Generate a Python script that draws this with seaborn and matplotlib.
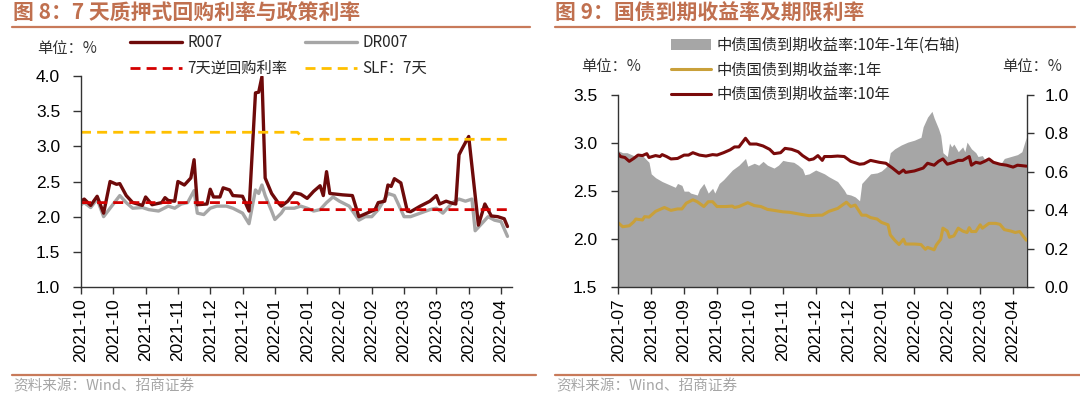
import matplotlib
matplotlib.use("Agg")
import matplotlib.pyplot as plt
import seaborn as sns
import numpy as np
from matplotlib.lines import Line2D
from matplotlib.patches import Patch

# ---------------- data: left chart (x = trading-day index) ----------------
left_tick_pos = list(range(0, 131, 10))
left_tick_labels = ['2021-10', '2021-10', '2021-11', '2021-11', '2021-12', '2021-12',
                    '2022-01', '2022-01', '2022-02', '2022-02', '2022-03', '2022-03',
                    '2022-03', '2022-04']

r007_x = [0, 1, 3, 5, 7, 9, 11, 12, 14, 16, 19, 20, 22, 25, 26, 27, 29, 30, 32, 34, 35, 36,
          39, 40, 41, 43, 44, 46, 47, 50, 52, 54, 55, 56, 57, 59, 61, 62, 64, 66, 68, 70,
          72, 74, 75, 76, 77, 81, 84, 86, 89, 91, 92, 94, 95, 96, 97, 99, 101, 102, 105,
          108, 110, 111, 113, 115, 116, 117, 118, 120, 123, 125, 127, 129, 131, 132]
r007_y = [2.22, 2.25, 2.16, 2.29, 2.05, 2.50, 2.46, 2.47, 2.30, 2.20, 2.16, 2.28, 2.17, 2.20,
          2.27, 2.23, 2.22, 2.50, 2.45, 2.55, 2.81, 2.17, 2.18, 2.39, 2.28, 2.28, 2.41, 2.38,
          2.30, 2.29, 2.08, 3.76, 3.77, 3.99, 2.55, 2.33, 2.20, 2.15, 2.22, 2.34, 2.32, 2.26,
          2.36, 2.44, 2.30, 2.64, 2.33, 2.31, 2.30, 2.00, 2.06, 2.10, 2.20, 2.22, 2.45, 2.43,
          2.54, 2.48, 2.08, 2.07, 2.15, 2.22, 2.30, 2.18, 2.22, 2.19, 2.18, 2.88, 2.97, 3.14,
          1.88, 2.18, 2.01, 2.00, 1.97, 1.86]

dr007_x = [0, 1, 3, 5, 7, 9, 12, 14, 16, 19, 21, 24, 27, 29, 31, 33, 35, 36, 38, 40, 42, 45,
           47, 50, 52, 54, 55, 56, 57, 59, 60, 62, 63, 66, 68, 70, 72, 74, 76, 78, 80, 83,
           86, 88, 90, 92, 94, 95, 97, 99, 100, 102, 105, 108, 110, 112, 115, 117, 119, 121,
           122, 124, 126, 128, 130, 132]
dr007_y = [2.17, 2.20, 2.13, 2.25, 2.00, 2.12, 2.30, 2.20, 2.12, 2.13, 2.10, 2.08, 2.15, 2.12,
           2.18, 2.20, 2.37, 2.05, 2.03, 2.12, 2.15, 2.15, 2.12, 2.05, 1.90, 2.38, 2.33, 2.45,
           2.30, 2.08, 1.96, 2.05, 2.12, 2.12, 2.15, 2.12, 2.08, 2.10, 2.20, 2.28, 2.22, 2.15,
           1.95, 2.00, 2.00, 2.10, 2.25, 2.33, 2.30, 2.10, 2.00, 2.00, 2.05, 2.10, 2.12, 2.05,
           2.20, 2.25, 2.22, 2.25, 1.80, 1.90, 2.00, 1.95, 1.93, 1.72]

policy_x = [0, 67, 69, 132]
repo7_y = [2.2, 2.2, 2.1, 2.1]
slf7_y = [3.2, 3.2, 3.1, 3.1]

# ---------------- data: right chart ----------------
right_tick_pos = list(range(0, 181, 15))
right_tick_labels = ['2021-07', '2021-08', '2021-09', '2021-09', '2021-10', '2021-11',
                     '2021-12', '2021-12', '2022-01', '2022-02', '2022-02', '2022-03',
                     '2022-04']

spread_x = [0, 2, 4, 6, 8, 11, 14, 15, 17, 20, 24, 26, 27, 29, 30, 32, 33, 36, 37, 39, 41, 43,
            44, 46, 48, 50, 52, 55, 58, 59, 62, 64, 66, 68, 70, 71, 73, 75, 77, 80, 82, 84,
            85, 87, 90, 92, 94, 96, 100, 103, 104, 106, 108, 110, 111, 113, 115, 118, 120,
            122, 123, 124, 126, 129, 132, 135, 138, 139, 141, 143, 144, 146, 147, 148, 150,
            151, 152, 153, 155, 157, 158, 159, 161, 163, 164, 166, 167, 169, 172, 174, 176,
            179, 182, 184, 186]
spread_y = [0.71, 0.70, 0.70, 0.69, 0.68, 0.685, 0.65, 0.59, 0.57, 0.55, 0.53, 0.52, 0.54,
            0.53, 0.50, 0.50, 0.49, 0.48, 0.51, 0.54, 0.49, 0.515, 0.49, 0.54, 0.56, 0.585,
            0.61, 0.635, 0.67, 0.63, 0.645, 0.635, 0.655, 0.635, 0.625, 0.62, 0.635, 0.66,
            0.655, 0.65, 0.635, 0.615, 0.585, 0.59, 0.61, 0.60, 0.59, 0.575, 0.55, 0.505,
            0.485, 0.48, 0.47, 0.45, 0.54, 0.565, 0.59, 0.595, 0.605, 0.625, 0.64, 0.70, 0.72,
            0.74, 0.755, 0.765, 0.78, 0.835, 0.885, 0.915, 0.88, 0.825, 0.79, 0.70, 0.68,
            0.75, 0.73, 0.745, 0.705, 0.73, 0.705, 0.755, 0.72, 0.70, 0.68, 0.685, 0.665,
            0.66, 0.65, 0.635, 0.67, 0.68, 0.69, 0.705, 0.78]

y10_x = [0, 1, 3, 5, 7, 9, 11, 13, 14, 17, 19, 20, 22, 24, 27, 30, 32, 34, 37, 40, 43, 45,
         48, 51, 53, 55, 58, 60, 63, 66, 69, 71, 74, 76, 79, 82, 84, 87, 89, 91, 93, 94, 97,
         100, 103, 106, 110, 112, 115, 119, 122, 125, 128, 130, 131, 135, 139, 141, 144,
         146, 148, 150, 153, 155, 157, 160, 161, 163, 165, 167, 169, 171, 174, 177, 180,
         182, 186]
y10_y = [2.89, 2.86, 2.85, 2.81, 2.84, 2.875, 2.87, 2.89, 2.85, 2.87, 2.86, 2.88, 2.86, 2.835,
         2.84, 2.875, 2.875, 2.90, 2.875, 2.865, 2.88, 2.875, 2.90, 2.93, 2.96, 2.96, 3.05,
         2.99, 2.99, 2.97, 2.935, 2.89, 2.90, 2.945, 2.935, 2.91, 2.87, 2.825, 2.835, 2.87,
         2.82, 2.86, 2.86, 2.865, 2.86, 2.81, 2.78, 2.785, 2.82, 2.80, 2.79, 2.74, 2.685,
         2.72, 2.695, 2.71, 2.74, 2.79, 2.77, 2.81, 2.835, 2.78, 2.80, 2.82, 2.82, 2.86,
         2.77, 2.80, 2.79, 2.81, 2.835, 2.80, 2.78, 2.77, 2.75, 2.77, 2.76]

y1_x = [0, 2, 5, 7, 8, 11, 12, 14, 17, 19, 21, 24, 27, 29, 31, 34, 36, 39, 41, 43, 45, 49, 52,
        53, 55, 59, 62, 65, 68, 71, 75, 78, 83, 87, 91, 93, 96, 100, 104, 106, 108, 111, 113,
        115, 118, 120, 123, 124, 126, 128, 130, 131, 135, 138, 140, 141, 144, 145, 147, 148,
        150, 151, 153, 155, 157, 159, 160, 161, 163, 165, 166, 169, 172, 174, 176, 179, 181,
        183, 186]
y1_y = [2.17, 2.13, 2.14, 2.18, 2.21, 2.20, 2.235, 2.23, 2.29, 2.31, 2.33, 2.30, 2.315, 2.315,
        2.375, 2.41, 2.39, 2.34, 2.39, 2.39, 2.34, 2.34, 2.345, 2.33, 2.34, 2.38, 2.35, 2.34,
        2.31, 2.30, 2.285, 2.28, 2.26, 2.245, 2.25, 2.25, 2.29, 2.32, 2.385, 2.34, 2.355,
        2.25, 2.25, 2.225, 2.21, 2.175, 2.15, 2.045, 1.99, 1.945, 2.00, 1.95, 1.95, 1.945,
        1.895, 1.915, 1.89, 1.94, 2.00, 2.115, 2.085, 2.02, 2.035, 2.115, 2.085, 2.07, 2.12,
        2.08, 2.08, 2.15, 2.115, 2.165, 2.165, 2.155, 2.10, 2.085, 2.07, 2.08, 1.99]

# ---------------- styling ----------------
sns.set_theme(style="white")
plt.rcParams['font.family'] = ['Liberation Sans', 'Noto Sans CJK SC', 'DejaVu Sans']
plt.rcParams['axes.unicode_minus'] = False

W, H = 1080, 394
fig = plt.figure(figsize=(W / 100, H / 100), dpi=100)


def fx(px):
    return px / W


def fy(py):
    return 1 - py / H


TITLE_C = '#C0704F'
LINE_C = '#C87A5A'
SPINE_C = '#333333'
CJK = ['Noto Sans CJK SC', 'Liberation Sans']

# titles, rules, source
fig.text(fx(13), fy(13), '图 8：7 天质押式回购利率与政策利率', fontsize=15, weight='bold',
         color=TITLE_C, va='center', ha='left', family=CJK)
fig.text(fx(555), fy(13), '图 9：国债到期收益率及期限利率', fontsize=15, weight='bold',
         color=TITLE_C, va='center', ha='left', family=CJK)
for x0, x1 in [(12, 530), (555, 1075)]:
    fig.add_artist(Line2D([fx(x0), fx(x1)], [fy(27), fy(27)], color=LINE_C, lw=1.6))
for x0, x1 in [(12, 536), (555, 1080)]:
    fig.add_artist(Line2D([fx(x0), fx(x1)], [fy(375), fy(375)], color=LINE_C, lw=1.6))
for x0 in [13, 556]:
    fig.text(fx(x0), fy(386), '资料来源：Wind、招商证券', fontsize=10.5, color='#A6A6A6',
             va='center', ha='left', family=CJK)

# ---------------- left chart ----------------
ax1 = fig.add_axes([fx(81), fy(287), fx(512 - 81), (287 - 76) / H])
ax1.set_facecolor('none')
C_R007 = '#6E0A0A'
C_DR007 = '#A6A6A6'
C_REPO = '#D40000'
C_SLF = '#FFC000'

sns.lineplot(x=dr007_x, y=dr007_y, ax=ax1, color=C_DR007, lw=2.4, estimator=None, sort=False)
sns.lineplot(x=r007_x, y=r007_y, ax=ax1, color=C_R007, lw=2.4, estimator=None, sort=False)
sns.lineplot(x=policy_x, y=repo7_y, ax=ax1, color=C_REPO, lw=2.0, estimator=None, sort=False)
sns.lineplot(x=policy_x, y=slf7_y, ax=ax1, color=C_SLF, lw=2.0, estimator=None, sort=False)
ax1.lines[2].set_dashes((3.6, 2.2))
ax1.lines[3].set_dashes((3.6, 2.2))

ax1.set_xlim(0, 133.4)
ax1.set_ylim(1.0, 4.0)
ax1.set_yticks([1.0, 1.5, 2.0, 2.5, 3.0, 3.5, 4.0])
ax1.set_yticklabels([f'{v:.1f}' for v in [1.0, 1.5, 2.0, 2.5, 3.0, 3.5, 4.0]])
ax1.set_xticks(left_tick_pos)
ax1.set_xticklabels(left_tick_labels, rotation=90)
for s in ['top', 'right']:
    ax1.spines[s].set_visible(False)
for s in ['left', 'bottom']:
    ax1.spines[s].set_color(SPINE_C)
    ax1.spines[s].set_linewidth(1.0)
ax1.tick_params(axis='y', direction='out', length=6, width=1, color=SPINE_C, labelsize=12.5,
                pad=9, left=True, labelcolor='#000000')
ax1.tick_params(axis='x', direction='out', length=5, width=1, color=SPINE_C, labelsize=12.5,
                pad=3, bottom=True, labelcolor='#000000')
ax1.set_xlabel('')
ax1.set_ylabel('')
ax1.grid(False)

fig.text(fx(37), fy(48), '单位：%', fontsize=11, color='#333333', va='center', ha='left',
         family=CJK)

h_left = [Line2D([], [], color=C_R007, lw=2.4),
          Line2D([], [], color=C_REPO, lw=2.0, dashes=(3.6, 2.2)),
          Line2D([], [], color=C_DR007, lw=2.4),
          Line2D([], [], color=C_SLF, lw=2.0, dashes=(3.6, 2.2))]
l_left = ['R007', '7天逆回购利率', 'DR007', 'SLF：7天']
fig.legend(h_left, l_left, loc='upper left', bbox_to_anchor=(fx(130), fy(34)), ncol=2,
           frameon=False, handlelength=3.4, handletextpad=0.35,
           columnspacing=1.15, labelspacing=0.6, borderpad=0, borderaxespad=0,
           prop={'family': CJK, 'size': 11})

# ---------------- right chart ----------------
ax2 = fig.add_axes([fx(618.3), fy(287.3), fx(1026.7 - 618.3), (287.3 - 95) / H])
ax2r = ax2.twinx()
C_SPREAD = '#A6A6A6'
C_1Y = '#C9A03A'
C_10Y = '#7A0A0A'

ax2r.fill_between(spread_x, 0, spread_y, color=C_SPREAD, lw=0)
ax2r.set_ylim(0, 1.0)
ax2r.set_yticks([0.0, 0.2, 0.4, 0.6, 0.8, 1.0])
ax2r.set_yticklabels([f'{v:.1f}' for v in [0.0, 0.2, 0.4, 0.6, 0.8, 1.0]])

sns.lineplot(x=y1_x, y=y1_y, ax=ax2, color=C_1Y, lw=2.2, estimator=None, sort=False)
sns.lineplot(x=y10_x, y=y10_y, ax=ax2, color=C_10Y, lw=2.2, estimator=None, sort=False)
ax2.set_zorder(ax2r.get_zorder() + 1)
ax2.patch.set_visible(False)

ax2.set_xlim(0, 186.2)
ax2r.set_xlim(0, 186.2)
ax2.set_ylim(1.5, 3.5)
ax2.set_yticks([1.5, 2.0, 2.5, 3.0, 3.5])
ax2.set_yticklabels([f'{v:.1f}' for v in [1.5, 2.0, 2.5, 3.0, 3.5]])
ax2.set_xticks(right_tick_pos)
ax2.set_xticklabels(right_tick_labels, rotation=90)
ax2.set_xlabel('')
ax2.set_ylabel('')
ax2r.set_ylabel('')
ax2.grid(False)
ax2r.grid(False)
for a in (ax2, ax2r):
    a.spines['top'].set_visible(False)
    for s in ['left', 'right', 'bottom']:
        a.spines[s].set_color(SPINE_C)
        a.spines[s].set_linewidth(1.0)
ax2.spines['right'].set_visible(False)
ax2r.spines['left'].set_visible(False)
ax2r.spines['bottom'].set_visible(False)
ax2.tick_params(axis='y', direction='out', length=5, width=1, color=SPINE_C, labelsize=12.5,
                pad=10, left=True, labelcolor='#000000')
ax2.tick_params(axis='x', direction='out', length=5, width=1, color=SPINE_C, labelsize=12.5,
                pad=3, bottom=True, labelcolor='#000000')
ax2r.tick_params(axis='y', direction='out', length=5, width=1, color=SPINE_C, labelsize=12.5,
                 pad=8, right=True, labelcolor='#000000')

fig.text(fx(581), fy(67), '单位：%', fontsize=11, color='#333333', va='center', ha='left',
         family=CJK)
fig.text(fx(1002), fy(67), '单位：%', fontsize=11, color='#333333', va='center', ha='left',
         family=CJK)

h_right = [Patch(facecolor=C_SPREAD, edgecolor='none'),
           Line2D([], [], color=C_1Y, lw=2.2),
           Line2D([], [], color=C_10Y, lw=2.2)]
l_right = ['中债国债到期收益率:10年-1年(右轴)', '中债国债到期收益率:1年', '中债国债到期收益率:10年']
fig.legend(h_right, l_right, loc='upper left', bbox_to_anchor=(fx(671), fy(37)), ncol=1,
           frameon=False, handlelength=2.6, handletextpad=0.4, labelspacing=0.5,
           borderpad=0, borderaxespad=0, prop={'family': CJK, 'size': 11})

fig.savefig('out.png', dpi=100)
